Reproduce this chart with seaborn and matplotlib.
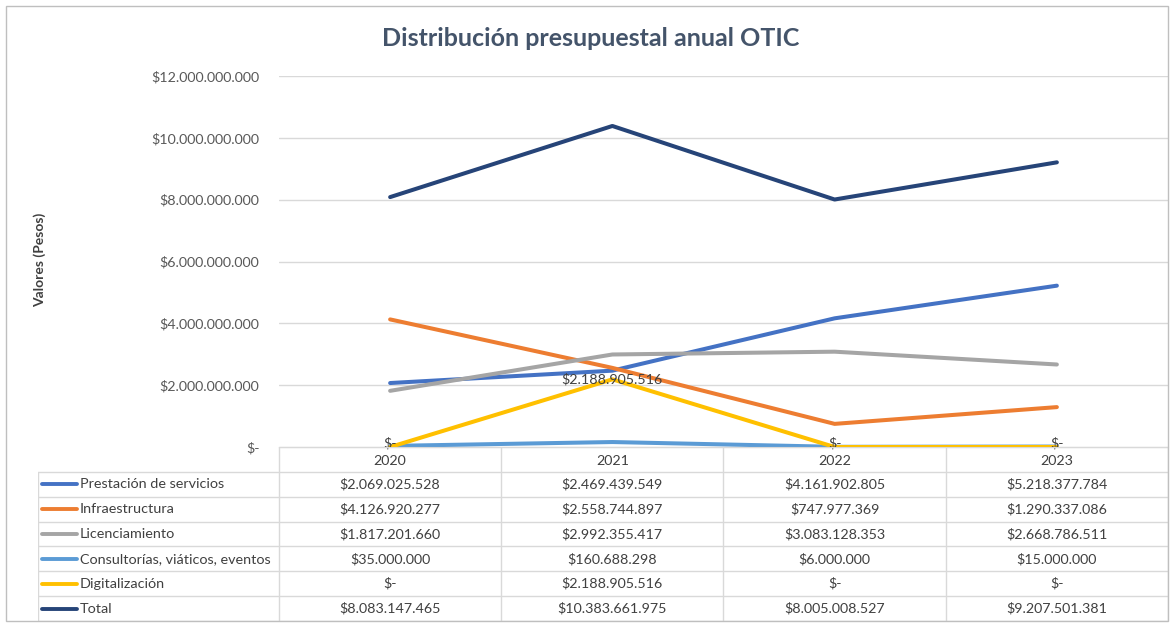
import numpy as np
import pandas as pd
import matplotlib
matplotlib.use("Agg")
import matplotlib.pyplot as plt
from matplotlib.patches import Rectangle
import seaborn as sns

# ---------------- data ----------------
years = ["2020", "2021", "2022", "2023"]
series_names = ["Prestación de servicios", "Infraestructura", "Licenciamiento",
                "Consultorías, viáticos, eventos", "Digitalización", "Total"]
prestacion = [2069025528, 2469439549, 4161902805, 5218377784]
infraestructura = [4126920277, 2558744897, 747977369, 1290337086]
licenciamiento = [1817201660, 2992355417, 3083128353, 2668786511]
consultorias = [35000000, 160688298, 6000000, 15000000]
digitalizacion = [0, 2188905516, 0, 0]
total = [8083147465, 10383661975, 8005008527, 9207501381]
colors = ["#4472C4", "#ED7D31", "#A5A5A5", "#5B9BD5", "#FFC000", "#264478"]
yticks = [0, 2e9, 4e9, 6e9, 8e9, 10e9, 12e9]

values = [prestacion, infraestructura, licenciamiento, consultorias, digitalizacion, total]
rows = []
for name, vals in zip(series_names, values):
    for y, v in zip(years, vals):
        rows.append({"Año": y, "Serie": name, "Valor": v})
df = pd.DataFrame(rows)


def fmt(v):
    v = int(v)
    if v == 0:
        return "$-"
    return "$" + f"{v:,}".replace(",", ".")


# ---------------- figure ----------------
sns.set_style("white")
plt.rcParams["font.family"] = ["Lato", "DejaVu Sans"]

W, H = 1171, 626
fig = plt.figure(figsize=(W / 100, H / 100), dpi=100)
fig.patch.set_facecolor("white")

def px_rect(x0, y0, x1, y1):
    return [x0 / W, 1 - y1 / H, (x1 - x0) / W, (y1 - y0) / H]

ax = fig.add_axes(px_rect(279, 76, 1168, 447))
sns.lineplot(data=df, x="Año", y="Valor", hue="Serie", hue_order=series_names,
             palette=colors, linewidth=2.9, legend=False, sort=False, ax=ax)
ax.set_xlim(-0.5, 3.5)
ax.set_ylim(0, 12e9)
ax.set_yticks(yticks)
ax.set_yticklabels([fmt(t) for t in yticks], color="#595959", fontsize=10.3)
ax.tick_params(axis="y", length=0, pad=14)
ax.tick_params(axis="x", length=0, labelbottom=False)
ax.set_xlabel("")
ax.set_ylabel("")
ax.grid(axis="y", color="#D9D9D9", linewidth=1)
ax.set_axisbelow(True)
for s in ["top", "right", "left"]:
    ax.spines[s].set_visible(False)
ax.spines["bottom"].set_color("#D9D9D9")
for ln in ax.get_lines():
    ln.set_solid_capstyle("round")

# data labels for Digitalización
for i, v in enumerate(digitalizacion):
    ax.annotate(fmt(v), (i, v), xytext=(0, 3 if v == 0 else 0), textcoords="offset points",
                ha="center", va="center", fontsize=10.3, color="#404040", zorder=5,
                annotation_clip=False)

fig.text(591 / W, 1 - 38 / H, "Distribución presupuestal anual OTIC", ha="center",
         va="center", fontsize=18, fontweight="bold", color="#44546A")
fig.text(40 / W, 1 - 260 / H, "Valores (Pesos)", rotation=90, ha="center", va="center",
         fontsize=10, fontweight="bold", color="#404040")

# ---------------- data table ----------------
tab = fig.add_axes(px_rect(38, 447, 1168, 621))
x_left = -0.5 - (279 - 38) / 222.25
tab.set_xlim(x_left, 3.5)
tab.set_ylim(7, 0)
tab.axis("off")
gc = "#D9D9D9"
tab.plot([-0.5, 3.5], [0, 0], color=gc, lw=1)
for c in range(5):
    tab.plot([c - 0.5, c - 0.5], [0, 7], color=gc, lw=1)
tab.plot([x_left, x_left], [1, 7], color=gc, lw=1)
for r in range(1, 8):
    tab.plot([x_left, 3.5], [r, r], color=gc, lw=1)
for i, y in enumerate(years):
    tab.text(i, 0.55, y, ha="center", va="center", fontsize=10.3, color="#404040")
key_x0 = x_left + 4 / 222.25
key_x1 = x_left + 39 / 222.25
for r, (name, vals, col) in enumerate(zip(series_names, values, colors), start=1):
    yc = r + 0.5
    tab.plot([key_x0, key_x1], [yc, yc], color=col, lw=2.8, solid_capstyle="round")
    tab.text(key_x1 + 3 / 222.25, yc, name, ha="left", va="center", fontsize=10.4,
             color="#404040")
    for i, v in enumerate(vals):
        tab.text(i, yc, fmt(v), ha="center", va="center", fontsize=10.3, color="#404040")

# outer border
fig.patches.append(Rectangle((6 / W, 1 - 621 / H), (1168 - 6) / W, (621 - 6) / H,
                             transform=fig.transFigure, fill=False, edgecolor="#BFBFBF",
                             linewidth=1))

fig.savefig("out.png", dpi=100)
